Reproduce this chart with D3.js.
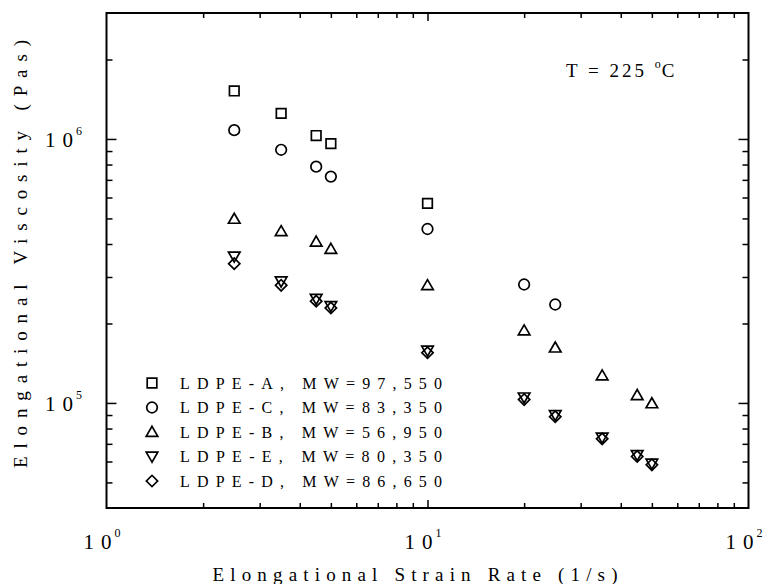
<!DOCTYPE html>
<html>
<head>
<meta charset="utf-8">
<script src="https://cdn.jsdelivr.net/npm/d3@7"></script>
<style>
  body { margin: 0; background: #fff; }
</style>
</head>
<body>
<svg id="chart" width="767" height="584"></svg>
<script>
"use strict"

// strain rates (1/s)
const rates_short = [2.5, 3.5, 4.5, 5, 10];
const rates_mid = [2.5, 3.5, 4.5, 5, 10, 20, 25];
const rates_full = [2.5, 3.5, 4.5, 5, 10, 20, 25, 35, 45, 50];

// elongational viscosity (Pa s) for each grade
const ldpe_a = [1.52e6, 1.25e6, 1.03e6, 9.6e5, 5.7e5];
const ldpe_c = [1.08e6, 9.1e5, 7.85e5, 7.2e5, 4.56e5, 2.81e5, 2.36e5];
const ldpe_b = [4.98e5, 4.47e5, 4.08e5, 3.83e5, 2.79e5, 1.88e5, 1.62e5, 1.27e5, 1.07e5, 9.96e4];
const ldpe_e = [3.59e5, 2.89e5, 2.48e5, 2.33e5, 1.58e5, 1.05e5, 9.0e4, 7.4e4, 6.35e4, 5.9e4];
const ldpe_d = [3.37e5, 2.79e5, 2.43e5, 2.29e5, 1.55e5, 1.03e5, 8.87e4, 7.31e4, 6.27e4, 5.83e4];

const legend_labels = ["LDPE-A, MW=97,550", "LDPE-C, MW=83,350", "LDPE-B, MW=56,950",
                       "LDPE-E, MW=80,350", "LDPE-D, MW=86,650"];

const x_decades = [1, 10, 100];
const x_decade_labels = ["0", "1", "2"];
const y_decades = [1e5, 1e6];
const y_decade_labels = ["5", "6"];

const serif = "'Liberation Serif', 'DejaVu Serif', serif";

//plot frame in pixels
const frame = {left: 106.5, right: 748.5, top: 13, bottom: 508};

const svg = d3.select("#chart");

const x = d3.scaleLog().domain([1, 100]).range([frame.left, frame.right]);
const y = d3.scaleLog().domain([4e4, 3e6]).range([frame.bottom, frame.top]);

//minor ticks: 2..9 of each decade that falls inside the domain
function minor_ticks(scale) {
    const [lo, hi] = scale.domain();
    let out = [];
    for (let e = Math.floor(Math.log10(lo)); e <= Math.ceil(Math.log10(hi)); e++) {
        for (let m = 2; m < 10; m++) {
            let v = m * Math.pow(10, e);
            if (v > lo && v < hi) out.push(v);
        }
    }
    return out;
}

//ticks on all four sides, pointing inwards
const x_minor = minor_ticks(x), y_minor = minor_ticks(y);

function draw_axis(axis_fn, scale, values, size, transform) {
    svg.append("g")
        .attr("transform", transform)
        .call(axis_fn(scale).tickValues(values).tickSize(size).tickFormat(""))
        .call(g => g.select(".domain").remove())
        .call(g => g.selectAll("line").attr("stroke", "#000").attr("stroke-width", 1.5));
}

draw_axis(d3.axisBottom, x, x_minor, -5, `translate(0,${frame.bottom})`);
draw_axis(d3.axisBottom, x, [10], -8, `translate(0,${frame.bottom})`);
draw_axis(d3.axisTop, x, x_minor, -5, `translate(0,${frame.top})`);
draw_axis(d3.axisTop, x, [10], -8, `translate(0,${frame.top})`);
draw_axis(d3.axisLeft, y, y_minor, -6, `translate(${frame.left},0)`);
draw_axis(d3.axisLeft, y, y_decades, -10, `translate(${frame.left},0)`);
draw_axis(d3.axisRight, y, y_minor, -6, `translate(${frame.right},0)`);
draw_axis(d3.axisRight, y, y_decades, -10, `translate(${frame.right},0)`);

//the frame
svg.append("rect")
    .attr("x", frame.left).attr("y", frame.top)
    .attr("width", frame.right - frame.left).attr("height", frame.bottom - frame.top)
    .attr("fill", "none").attr("stroke", "#000").attr("stroke-width", 2);

//decade label: spaced "1 0" plus a separate raised exponent
function decade_label(x0, y0, exp) {
    let t = svg.append("text")
        .attr("x", x0).attr("y", y0)
        .attr("font-family", serif).attr("font-size", 21);
    t.append("tspan").text("1");
    t.append("tspan").attr("dx", 7).text("0");
    svg.append("text")
        .attr("x", x0 + 31).attr("y", y0 - 12)
        .attr("font-family", serif).attr("font-size", 12)
        .text(exp);
}

x_decades.forEach((v, i) => decade_label(x(v) - 23, 549, x_decade_labels[i]));
y_decades.forEach((v, i) => decade_label(45, y(v) + 8, y_decade_labels[i]));

//axis titles
svg.append("text")
    .attr("x", 415).attr("y", 581)
    .attr("text-anchor", "middle")
    .attr("textLength", 405).attr("lengthAdjust", "spacing")
    .attr("font-family", serif).attr("font-size", 19)
    .text("Elongational Strain Rate (1/s)");

svg.append("text")
    .attr("transform", "translate(27,254) rotate(-90)")
    .attr("text-anchor", "middle")
    .attr("textLength", 428).attr("lengthAdjust", "spacing")
    .attr("font-family", serif).attr("font-size", 19)
    .text("Elongational Viscosity (Pas)");

//temperature note
let note = svg.append("text")
    .attr("x", 566).attr("y", 77)
    .attr("font-family", serif).attr("font-size", 19);
note.append("tspan").style("letter-spacing", "3px").text("T = 225 ");
note.append("tspan").attr("dy", -9).attr("font-size", 12).text("o");
note.append("tspan").attr("dy", 9).attr("dx", 1).text("C");

//markers
const sq = d3.symbol().type(d3.symbolSquare).size(92)();
const circ = d3.symbol().type(d3.symbolCircle).size(88)();
const tri = d3.symbol().type(d3.symbolTriangle).size(58)();
const dia = d3.symbol().type(d3.symbolSquare).size(64)();

const series = [
    {rates: rates_short, vals: ldpe_a, path: sq, rot: 0, dy: 0},
    {rates: rates_mid, vals: ldpe_c, path: circ, rot: 0, dy: 0},
    {rates: rates_full, vals: ldpe_b, path: tri, rot: 0, dy: 1},
    {rates: rates_full, vals: ldpe_e, path: tri, rot: 180, dy: -1},
    {rates: rates_full, vals: ldpe_d, path: dia, rot: 45, dy: 0}
];

series.forEach(s => {
    svg.append("g").selectAll("path")
        .data(s.rates.map((r, i) => [r, s.vals[i]]))
        .join("path")
        .attr("d", s.path)
        .attr("transform", d => `translate(${x(d[0])},${y(d[1]) + s.dy}) rotate(${s.rot})`)
        .attr("fill", "none")
        .attr("stroke", "#000")
        .attr("stroke-width", 1.7);
});

//legend
const legend_y = d3.scalePoint().domain(legend_labels).range([383, 481]);

legend_labels.forEach((lab, i) => {
    let s = series[i];
    svg.append("path")
        .attr("d", s.path)
        .attr("transform", `translate(152,${legend_y(lab) + s.dy}) rotate(${s.rot})`)
        .attr("fill", "none").attr("stroke", "#000").attr("stroke-width", 1.7);
    svg.append("text")
        .attr("x", 180).attr("y", legend_y(lab) + 5.5)
        .attr("textLength", 262).attr("lengthAdjust", "spacing")
        .attr("font-family", serif).attr("font-size", 16)
        .text(lab);
});
</script>
</body>
</html>
